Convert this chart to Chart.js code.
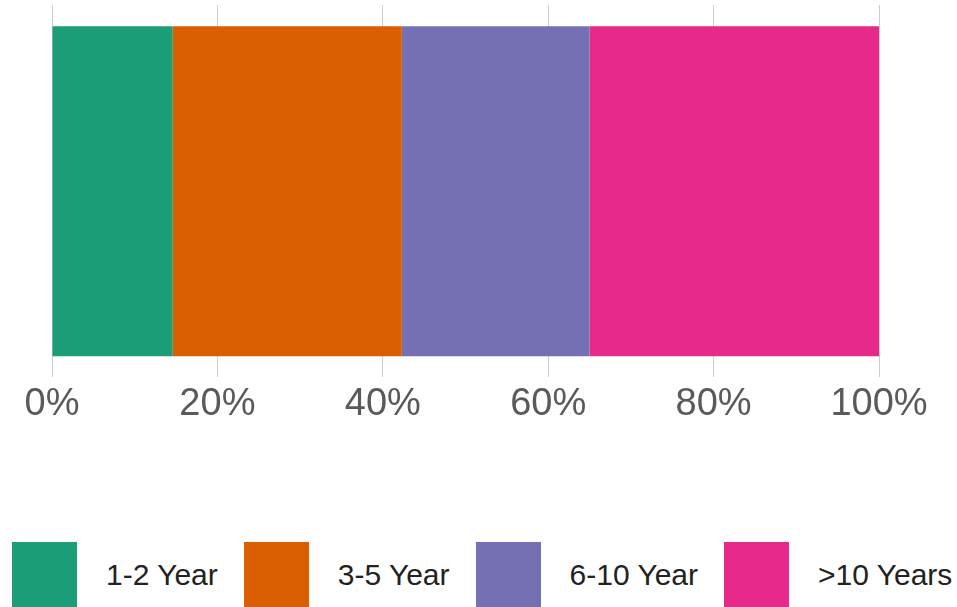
<!DOCTYPE html>
<html>
<head>
<meta charset="utf-8">
<script src="https://cdn.jsdelivr.net/npm/chart.js@4.4.0/dist/chart.umd.min.js"></script>
<style>
  html, body { margin: 0; padding: 0; background: #fff; overflow: hidden; }
  #wrap { position: relative; width: 957px; height: 607px; }
  #box { position: absolute; left: 0; top: 0; width: 957px; height: 440px; }
  #legend { position: absolute; left: 12px; top: 542px; display: flex; align-items: center; height: 65px;
            font-family: "Liberation Sans", Arial, sans-serif; font-size: 30px; color: #222; }
  .sw { width: 65px; height: 65px; margin-right: 29px; }
  .lb { margin-right: 26px; white-space: nowrap; }
</style>
</head>
<body>
<div id="wrap">
  <div id="box"><canvas id="myChart"></canvas></div>
  <div id="legend"></div>
</div>
<script>
//Datos del grafico
var categorias = [''];
var series = ['1-2 Year', '3-5 Year', '6-10 Year', '>10 Years'];
var valores = [14.6, 27.7, 22.7, 35.0];
var colores = ['#1b9e77', '#d95f02', '#7570b3', '#e7298a'];
var ticksX = [0, 20, 40, 60, 80, 100];

//Armamos los datasets
var datasets = [];
for (var i = 0; i < series.length; i++) {
  datasets.push({
    label: series[i],
    data: [valores[i]],
    backgroundColor: colores[i],
    borderWidth: 0,
    barPercentage: 0.886,
    categoryPercentage: 1
  });
}

const ctx = document.getElementById('myChart').getContext('2d');
let myChart = new Chart(ctx, {
  type: 'bar',
  data: { labels: categorias, datasets: datasets },
  options: {
    indexAxis: 'y',
    responsive: true,
    maintainAspectRatio: false,
    animation: false,
    layout: { padding: { left: 52, right: 78, top: 5, bottom: 9 } },
    plugins: { legend: { display: false }, tooltip: { enabled: false } },
    scales: {
      x: {
        stacked: true,
        min: 0,
        max: 100,
        afterBuildTicks: function (scale) {
          scale.ticks = ticksX.map(function (v) { return { value: v }; });
        },
        grid: { color: '#cccccc', lineWidth: 1, drawTicks: false },
        border: { display: false },
        ticks: {
          padding: 4,
          color: '#5a5a5a',
          font: { family: '"Liberation Sans", Arial, sans-serif', size: 38 },
          callback: function (v) { return v + '%'; }
        }
      },
      y: { stacked: true, display: false }
    }
  }
});

//Leyenda en HTML
var leg = document.getElementById('legend');
for (var j = 0; j < series.length; j++) {
  var sw = document.createElement('div');
  sw.className = 'sw';
  sw.style.background = colores[j];
  var lb = document.createElement('div');
  lb.className = 'lb';
  lb.textContent = series[j];
  leg.appendChild(sw);
  leg.appendChild(lb);
}
</script>
</body>
</html>
